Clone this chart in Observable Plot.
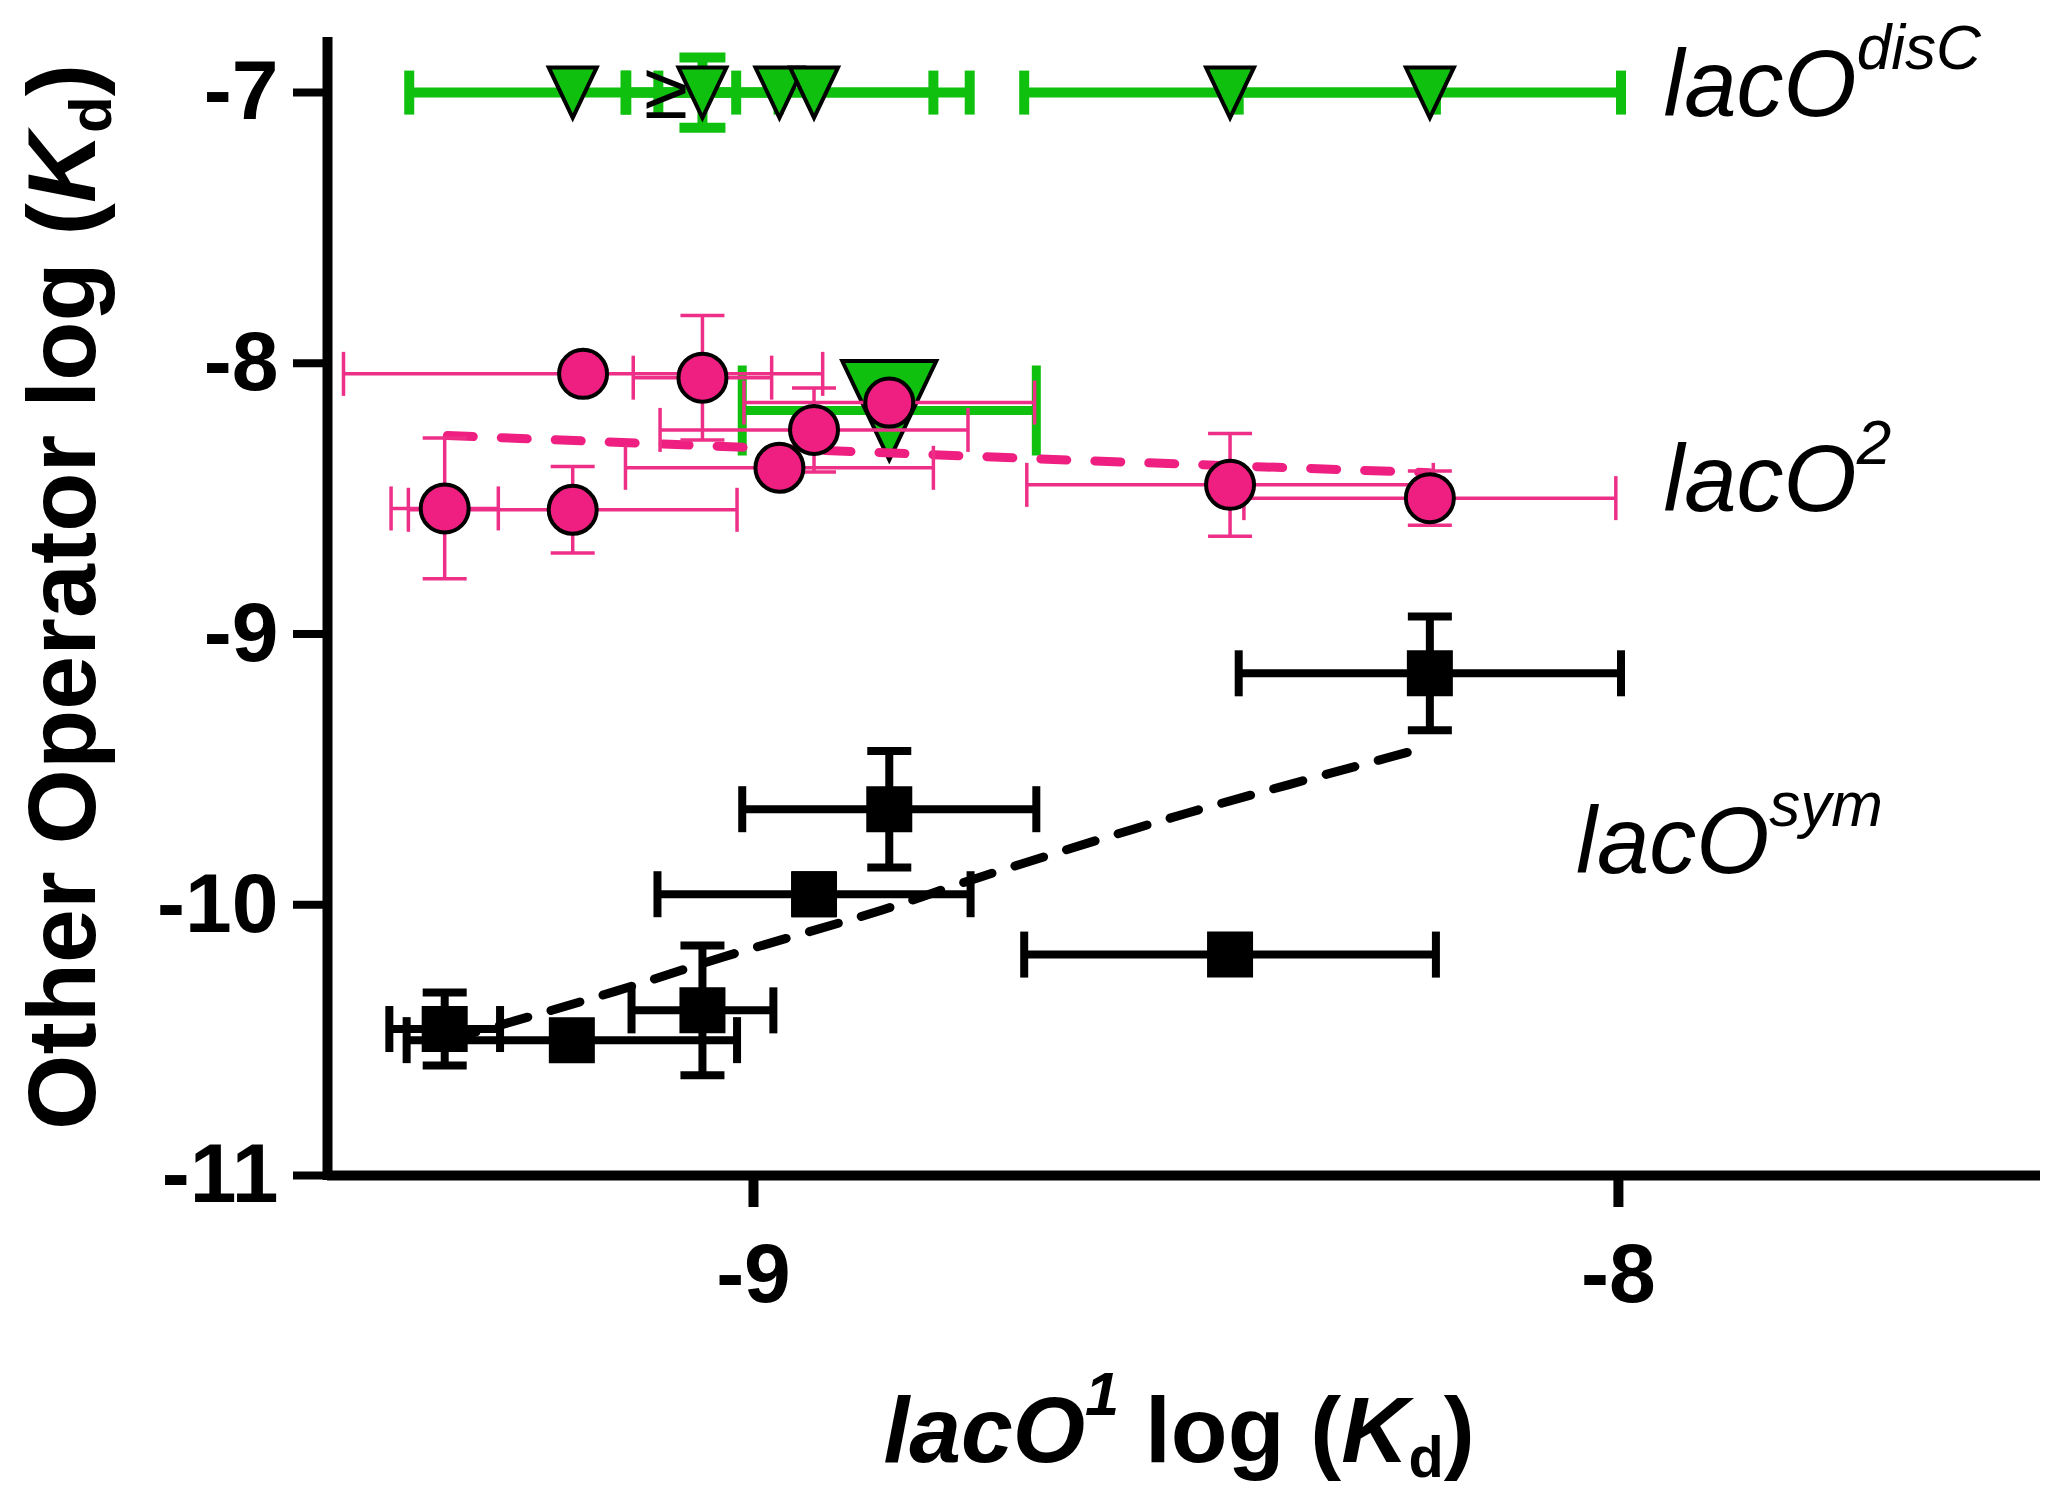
<!DOCTYPE html>
<html>
<head>
<meta charset="utf-8">
<script src="https://cdn.jsdelivr.net/npm/d3@7"></script>
<script src="https://cdn.jsdelivr.net/npm/@observablehq/plot@0.6"></script>
<style>
html, body { margin: 0; padding: 0; background: #fff; }
svg { display: block; }
</style>
</head>
<body>
<div id="chart"></div>
<script>
// ---------- data ----------
// lacO^sym (black squares)
const symX    = [-9.357, -9.210, -9.059, -8.930, -8.843, -8.449, -8.218];
const symXErr = [0.064, 0.191, 0.082, 0.181, 0.170, 0.238, 0.221];
const symY    = [-10.459, -10.500, -10.390, -9.961, -9.647, -10.184, -9.145];
const symYErr = [0.135, 0.060, 0.240, 0.070, 0.215, 0, 0.210];
const symFitX = [-9.354, -9.277, -9.159, -9.035, -8.852, -8.740, -8.499, -8.218];
const symFitY = [-10.500, -10.430, -10.319, -10.193, -10.020, -9.900, -9.662, -9.415];

// lacO^2 (pink circles)
const o2X    = [-9.357, -9.209, -9.197, -9.059, -8.970, -8.930, -8.843, -8.449, -8.218];
const o2XErr = [0.062, 0.190, 0.277, 0.080, 0.178, 0.178, 0.168, 0.235, 0.215];
const o2Y    = [-8.536, -8.541, -8.039, -8.053, -8.386, -8.246, -8.145, -8.449, -8.498];
const o2YErr = [0.26, 0.16, 0, 0.23, 0, 0.155, 0, 0.19, 0.10];
const o2FitX = [-9.354, -8.621, -8.218];
const o2FitY = [-8.267, -8.359, -8.404];

// lacO^disC (green triangles): limits at -7 and one measured point
const discX    = [-9.209, -9.059, -8.970, -8.930, -8.449, -8.218];
const discXErr = [0.189, 0.088, 0.178, 0.180, 0.238, 0.221];
const discY    = [-7, -7, -7, -7, -7, -7];
const discYErr = [0, 0.13, 0, 0, 0, 0];
const discMX    = [-8.843];
const discMXErr = [0.170];
const discMY    = [-8.174];

// annotations
const noteText = ["≥"];
const noteX = [-9.101];
const noteY = [-7.0];
const seriesLabels = ["*lacO*^{*disC*}", "*lacO*^{*2*}", "*lacO*^{*sym*}"];
const seriesLabelX = [-7.948, -7.948, -8.049];
const seriesLabelY = [-7.085, -8.544, -9.881];

// axes
const xTicks = [-9, -8];
const yTicks = [-11, -10, -9, -8, -7];
const xDomain = [-9.4925, -7.512];
const yDomain = [-11, -6.815];
const xTitle = ["*lacO*^{*1*} log (*K*_{d})"];
const yTitle = ["Other Operator log (*K*_{d})"];

// ---------- helpers ----------
function rows(xs, xe, ys, ye) {
  return xs.map((x, i) => {
    const y = ys[i], dx = xe ? xe[i] : 0, dy = ye ? ye[i] : 0;
    return {x, y, xlo: x - dx, xhi: x + dx, ylo: y - dy, yhi: y + dy, hasX: dx > 0, hasY: dy > 0};
  });
}
const sym = rows(symX, symXErr, symY, symYErr);
const o2 = rows(o2X, o2XErr, o2Y, o2YErr);
const disc = rows(discX, discXErr, discY, discYErr);
const discM = rows(discMX, discMXErr, discMY, null);
const symFit = symFitX.map((x, i) => ({x, y: symFitY[i]}));
const o2Fit = o2FitX.map((x, i) => ({x, y: o2FitY[i]}));
const notes = noteText.map((t, i) => ({t, x: noteX[i], y: noteY[i]}));
const labels = seriesLabels.map((t, i) => ({t, x: seriesLabelX[i], y: seriesLabelY[i]}));

const rad = (size) => Math.sqrt(size / Math.PI);
const capV = {draw(ctx, size) { const r = rad(size); ctx.moveTo(0, -r); ctx.lineTo(0, r); }};
const capH = {draw(ctx, size) { const r = rad(size); ctx.moveTo(-r, 0); ctx.lineTo(r, 0); }};
const triDown = {draw(ctx, size) { const r = rad(size), h = r * 1.05; ctx.moveTo(-r, -h); ctx.lineTo(r, -h); ctx.lineTo(0, h); ctx.closePath(); }};
const square = {draw(ctx, size) { const r = rad(size); ctx.rect(-r, -r, 2 * r, 2 * r); }};

function errorBars(data, color, width, capX, capY) {
  const dx = data.filter(d => d.hasX), dy = data.filter(d => d.hasY);
  const common = {stroke: color, strokeWidth: width, fill: "none"};
  return [
    Plot.ruleY(dx, {y: "y", x1: "xlo", x2: "xhi", stroke: color, strokeWidth: width}),
    Plot.dot(dx, {x: "xlo", y: "y", symbol: capV, r: capX, ...common}),
    Plot.dot(dx, {x: "xhi", y: "y", symbol: capV, r: capX, ...common}),
    Plot.ruleX(dy, {x: "x", y1: "ylo", y2: "yhi", stroke: color, strokeWidth: width}),
    Plot.dot(dy, {x: "x", y: "ylo", symbol: capH, r: capY, ...common}),
    Plot.dot(dy, {x: "x", y: "yhi", symbol: capH, r: capY, ...common})
  ];
}

const BLACK = "#000000", PINK = "#EE1F80", PINKBAR = "#EE2F88", GREEN = "#0FC00F";
const FONT = "'Liberation Sans', Arial, Helvetica, sans-serif";

const chart = Plot.plot({
  width: 2051,
  height: 1497,
  marginLeft: 327,
  marginRight: 11,
  marginTop: 42,
  marginBottom: 322,
  x: {domain: xDomain},
  y: {domain: yDomain},
  style: {fontFamily: FONT, background: "#fff", color: "#000"},
  marks: [
    // green lacO^disC
    ...errorBars(disc, GREEN, 10, 22, 23),
    ...errorBars(discM, GREEN, 9, 45, 22),
    Plot.dot(disc, {x: "x", y: "y", symbol: triDown, r: 24, fill: GREEN, stroke: BLACK, strokeWidth: 4}),
    Plot.dot(discM, {x: "x", y: "y", symbol: triDown, r: 47, fill: GREEN, stroke: BLACK, strokeWidth: 4}),
    Plot.text(notes, {x: "x", y: "y", text: "t", fontSize: 80, fill: BLACK}),
    // pink lacO^2
    Plot.line(o2Fit, {x: "x", y: "y", stroke: PINK, strokeWidth: 9, strokeDasharray: "26,28", strokeLinecap: "round"}),
    ...errorBars(o2, PINKBAR, 3.5, 22, 22),
    Plot.dot(o2, {x: "x", y: "y", r: 24, fill: PINK, stroke: BLACK, strokeWidth: 4}),
    // black lacO^sym
    Plot.line(symFit, {x: "x", y: "y", stroke: BLACK, strokeWidth: 9, strokeDasharray: "30,24", strokeLinecap: "round", curve: "catmull-rom"}),
    ...errorBars(sym, BLACK, 8, 23, 22),
    Plot.dot(sym, {x: "x", y: "y", symbol: square, r: 23, fill: BLACK}),
    // series labels
    Plot.text(labels, {x: "x", y: "y", text: "t", textAnchor: "start", lineAnchor: "bottom", fontSize: 94, fill: BLACK}),
    // axes
    Plot.ruleX([xDomain[0]], {strokeWidth: 10, strokeLinecap: "square", stroke: BLACK}),
    Plot.ruleY([yDomain[0]], {strokeWidth: 10, stroke: BLACK}),
    Plot.axisX({ticks: xTicks, tickSize: 32, tickPadding: 35, tickFormat: d => String(d), fontSize: 84, fontWeight: "bold", strokeWidth: 10, label: null}),
    Plot.axisY({ticks: yTicks, tickSize: 34, tickPadding: 15, tickFormat: d => String(d), fontSize: 84, fontWeight: "bold", strokeWidth: 8, label: null}),
    Plot.text(xTitle, {frameAnchor: "bottom", dy: 286, dx: -5, lineAnchor: "bottom", textAnchor: "middle", fontSize: 93, fontWeight: "bold", fill: BLACK}),
    Plot.text(yTitle, {frameAnchor: "left", rotate: -90, dx: -233, dy: -12, lineAnchor: "bottom", textAnchor: "middle", fontSize: 97, fontWeight: "bold", fill: BLACK})
  ]
});

// rich text: *italic*, ^{sup}, _{sub}
function parseRich(s) {
  const segs = []; let italic = false, mode = null, buf = "";
  const push = () => { if (buf) segs.push({text: buf, italic, mode}); buf = ""; };
  for (let i = 0; i < s.length; i++) {
    const c = s[i];
    if (c === "*") { push(); italic = !italic; }
    else if ((c === "^" || c === "_") && s[i + 1] === "{") { push(); mode = c === "^" ? "sup" : "sub"; i++; }
    else if (c === "}" && mode) { push(); mode = null; }
    else buf += c;
  }
  push();
  return segs;
}
const NS = "http://www.w3.org/2000/svg";
d3.select(chart).selectAll("text").each(function () {
  const s = this.textContent;
  if (!/[\*\^_]/.test(s)) return;
  const g = this.closest("[font-size]");
  const base = g ? parseFloat(g.getAttribute("font-size")) : 90;
  this.textContent = "";
  let off = 0;
  for (const seg of parseRich(s)) {
    const t = document.createElementNS(NS, "tspan");
    const target = seg.mode === "sup" ? -0.5 * base : seg.mode === "sub" ? 0.17 * base : 0;
    if (target !== off) t.setAttribute("dy", target - off);
    off = target;
    if (seg.mode) t.setAttribute("font-size", base * (seg.mode === "sup" ? 0.66 : 0.62));
    if (seg.italic) t.setAttribute("font-style", "italic");
    t.textContent = seg.text;
    this.appendChild(t);
  }
});

document.getElementById("chart").appendChild(chart);
</script>
</body>
</html>
